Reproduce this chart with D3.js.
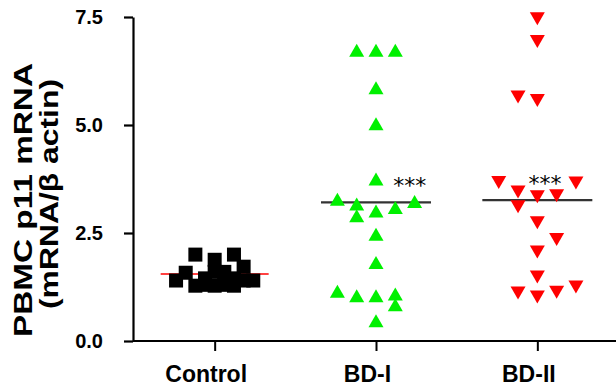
<!DOCTYPE html>
<html>
<head>
<meta charset="utf-8">
<script src="https://cdn.jsdelivr.net/npm/d3@7"></script>
<style>
  body { margin: 0; background: #fff; }
  svg { display: block; font-family: "Liberation Sans", Arial, sans-serif; }
</style>
</head>
<body>
<svg width="616" height="386"></svg>
<script>
// groups on the x axis
const categories = ["Control", "BD-I", "BD-II"];
const yTicks = [0, 2.5, 5.0, 7.5];

// points: slot = horizontal column inside a group, v = mRNA value
const controlSlots = [-4, -3, -2, -2, -1, -1, 0, 0, 0, 1, 1, 2, 2, 2, 3, 3, 4];
const controlValues = [1.40, 1.58, 2.00, 1.28, 1.45, 1.30, 1.88, 1.60, 1.28, 1.60, 1.30, 2.00, 1.45, 1.28, 1.72, 1.40, 1.40];

const bd1Slots = [-2, 0, 2, 0, 0, 0, -4, -2, -2, 0, 2, 4, 0, 0, -4, -2, 0, 2, 2, 0];
const bd1Values = [6.73, 6.73, 6.73, 5.86, 5.03, 3.75, 3.28, 3.17, 2.90, 3.01, 3.09, 3.23, 2.47, 1.82, 1.15, 1.05, 1.05, 1.09, 0.84, 0.47];

const bd2Slots = [0, 0, -2, 0, -4, -2, 0, 2, 4, -2, 0, 2, 0, 0, -2, 0, 2, 4];
const bd2Values = [7.46, 6.93, 5.65, 5.57, 3.67, 3.45, 3.34, 3.36, 3.66, 3.11, 2.74, 2.35, 2.06, 1.48, 1.11, 1.02, 1.13, 1.25];

// group means as drawn, and significance marks
const means = [1.55, 3.21, 3.26];
const stars = [
  { cat: "BD-I", slot: 3.5, v: 3.66 },
  { cat: "BD-II", slot: 0.8, v: 3.70 }
];

const svg = d3.select("svg");
const x = d3.scalePoint().domain(categories).range([134, 618]).padding(0.5);
const y = d3.scaleLinear().domain([0, 7.5]).range([341, 17]);
const slot = d3.scaleLinear().domain([-4, 4]).range([-38.6, 38.6]);

// axes
const yAxis = svg.append("g")
  .attr("transform", "translate(133,0)")
  .call(d3.axisLeft(y).tickValues(yTicks).tickFormat(d3.format(".1f")).tickSize(9).tickSizeOuter(0).tickPadding(21));
yAxis.select(".domain").attr("stroke-width", 2.2);
yAxis.selectAll(".tick line").attr("stroke-width", 2.2);
yAxis.selectAll("text").attr("font-size", 20).attr("font-weight", "bold").attr("fill", "#000")
  .attr("font-family", "Liberation Sans, Arial, sans-serif");

const xAxis = svg.append("g")
  .attr("transform", "translate(0,341)")
  .call(d3.axisBottom(x).tickSize(10).tickSizeOuter(0).tickPadding(12));
xAxis.select(".domain").attr("d", "M133,0H616").attr("stroke-width", 2.2);
xAxis.selectAll(".tick line").attr("stroke-width", 2);
xAxis.selectAll("text").attr("font-size", 23).attr("font-weight", "bold").attr("fill", "#000")
  .attr("dx", -9).attr("y", 41).attr("dy", 0)
  .attr("font-family", "Liberation Sans, Arial, sans-serif");

// y title
const title = svg.append("g").attr("transform", "rotate(-90)")
  .attr("font-weight", "bold").attr("font-size", 26).attr("text-anchor", "middle");
title.append("text").attr("x", -200).attr("y", 32)
  .attr("textLength", 274).attr("lengthAdjust", "spacingAndGlyphs").text("PBMC p11 mRNA");
title.append("text").attr("x", -194).attr("y", 58)
  .attr("textLength", 230).attr("lengthAdjust", "spacingAndGlyphs").text("(mRNA/\u03b2 actin)");

// mean lines
svg.selectAll(".mean").data(means).enter().append("line")
  .attr("class", "mean")
  .attr("x1", (d, i) => x(categories[i]) - (i === 0 ? 54 : 55))
  .attr("x2", (d, i) => x(categories[i]) + (i === 0 ? 54 : 55))
  .attr("y1", d => y(d)).attr("y2", d => y(d))
  .attr("stroke", (d, i) => i === 0 ? "#ff0000" : "#333")
  .attr("stroke-width", (d, i) => i === 0 ? 1.6 : 2.4);

// control squares
const sq = 14;
svg.selectAll(".ctrl").data(controlValues).enter().append("rect")
  .attr("class", "ctrl")
  .attr("x", (d, i) => x("Control") + slot(controlSlots[i]) - sq / 2)
  .attr("y", d => y(d) - sq / 2)
  .attr("width", sq).attr("height", sq)
  .attr("fill", "#000");

// triangles
const up = "M0,-6.5L7.5,6.5L-7.5,6.5Z";
const down = "M0,6.5L7.5,-6.5L-7.5,-6.5Z";
svg.selectAll(".bd1").data(bd1Values).enter().append("path")
  .attr("class", "bd1")
  .attr("d", up)
  .attr("transform", (d, i) => "translate(" + (x("BD-I") + slot(bd1Slots[i])) + "," + y(d) + ")")
  .attr("fill", "#00f000");
svg.selectAll(".bd2").data(bd2Values).enter().append("path")
  .attr("class", "bd2")
  .attr("d", down)
  .attr("transform", (d, i) => "translate(" + (x("BD-II") + slot(bd2Slots[i])) + "," + y(d) + ")")
  .attr("fill", "#ff0000");

// significance stars
svg.selectAll(".star").data(stars).enter().append("text")
  .attr("class", "star")
  .attr("x", d => x(d.cat) + slot(d.slot))
  .attr("y", d => y(d.v) + 10)
  .attr("text-anchor", "middle")
  .attr("font-family", "DejaVu Sans, sans-serif")
  .attr("font-size", 22)
  .attr("fill", "#000")
  .text("***");
</script>
</body>
</html>
